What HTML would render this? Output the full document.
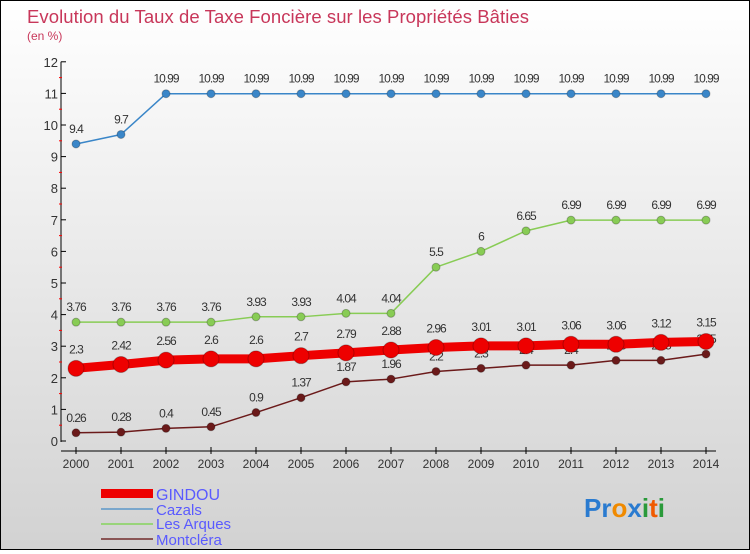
<!DOCTYPE html>
<html><head><meta charset="utf-8"><style>
html,body{margin:0;padding:0}
body{width:750px;height:550px;overflow:hidden}
#wrap{position:relative;width:748px;height:548px;border:1px solid #000;background:linear-gradient(#ffffff,#d2d2d2);font-family:"Liberation Sans",sans-serif}
</style></head><body>
<div id="wrap">
<svg id="chart" width="748" height="548">
<text x="26" y="22" font-size="18.5" fill="#c8375a" textLength="502">Evolution du Taux de Taxe Foncière sur les Propriétés Bâties</text>
<text x="26" y="39" font-size="12" fill="#c8375a">(en %)</text>
<g id="axes"></g><g id="series"></g>
<g>
<rect x="100" y="488" width="52" height="9" fill="#e00"/>
<text x="155" y="499" font-size="16" fill="#5a5aff">GINDOU</text>
<rect x="100" y="507" width="52" height="2" fill="#7aa7cc"/>
<text x="155" y="514" font-size="15" fill="#5a5aff">Cazals</text>
<rect x="100" y="522" width="52" height="2" fill="#99d47a"/>
<text x="155" y="528" font-size="15" fill="#5a5aff">Les Arques</text>
<rect x="100" y="537" width="52" height="2" fill="#8a5555"/>
<text x="155" y="544" font-size="15" fill="#5a5aff">Montcléra</text>
</g>
<text x="583" y="516" font-size="26" font-weight="bold"><tspan fill="#2a7bd0">Pr</tspan><tspan fill="#f08a00">o</tspan><tspan fill="#2a7bd0">x</tspan><tspan fill="#2a9a3a">i</tspan><tspan fill="#f05a00">t</tspan><tspan fill="#2a9a3a">i</tspan></text>
</svg></div>
<script>
const years=[2000,2001,2002,2003,2004,2005,2006,2007,2008,2009,2010,2011,2012,2013,2014];
const yTicks=[0,1,2,3,4,5,6,7,8,9,10,11,12];
const gindou=[2.3,2.42,2.56,2.6,2.6,2.7,2.79,2.88,2.96,3.01,3.01,3.06,3.06,3.12,3.15];
const cazals=[9.4,9.7,10.99,10.99,10.99,10.99,10.99,10.99,10.99,10.99,10.99,10.99,10.99,10.99,10.99];
const lesArques=[3.76,3.76,3.76,3.76,3.93,3.93,4.04,4.04,5.5,6,6.65,6.99,6.99,6.99,6.99];
const montclera=[0.26,0.28,0.4,0.45,0.9,1.37,1.87,1.96,2.2,2.3,2.4,2.4,2.55,2.55,2.75];
const NS='http://www.w3.org/2000/svg';
const xS=i=>75+i*45;
const yS=v=>440-v*31.6;
function mk(tag,attrs,parent){const e=document.createElementNS(NS,tag);for(const k in attrs)e.setAttribute(k,attrs[k]);parent.appendChild(e);return e;}
const ax=document.getElementById('axes');
let l=mk('line',{x1:60,y1:yS(12),x2:60,y2:yS(0)+1,stroke:'#000','stroke-width':1},ax);


l=mk('line',{x1:60,y1:450,x2:715,y2:450,stroke:'#000','stroke-width':1},ax);


yTicks.forEach(v=>{
 mk('line',{x1:60,y1:yS(v),x2:65,y2:yS(v),stroke:'#000'},ax);
 if(v<12) mk('line',{x1:58,y1:yS(v+0.5),x2:61,y2:yS(v+0.5),stroke:'#f00'},ax);
 const t=mk('text',{x:57,y:yS(v)+5,'font-size':13,fill:'#333','text-anchor':'end'},ax);
 t.textContent=v;
 
 
});
years.forEach((y,i)=>{
 mk('line',{x1:xS(i),y1:446,x2:xS(i),y2:453,stroke:'#000'},ax);
 const t=mk('text',{x:xS(i),y:467,'font-size':12,fill:'#333','text-anchor':'middle'},ax);
 t.textContent=y;
 
 
});
const sg=document.getElementById('series');
function draw(data,name,color,w,r,labelOff){
 const g=mk('g',{},sg);
 
 
 const p=mk('polyline',{points:data.map((v,i)=>xS(i)+','+yS(v)).join(' '),fill:'none',stroke:color,'stroke-width':w,'stroke-linejoin':'round'},g);
 
 
 data.forEach((v,i)=>{
  const c=mk('circle',{cx:xS(i),cy:yS(v),r:r,fill:color,stroke:'rgba(0,0,0,0.25)','stroke-width':1},g);
  
  
  const t=mk('text',{x:xS(i),y:yS(v)-labelOff,'font-size':12,fill:'#333','text-anchor':'middle','letter-spacing':'-1'},g);
  t.textContent=v;
  
  
 });
}
draw(cazals,'cazals','#3a86c8',1.5,4,11);
draw(lesArques,'les-arques','#88cc55',1.5,4,11);
draw(montclera,'montclera','#6b1a1a',1.5,4,11);
draw(gindou,'gindou','#ee0000',9,8,15);
</script>
</body></html>
